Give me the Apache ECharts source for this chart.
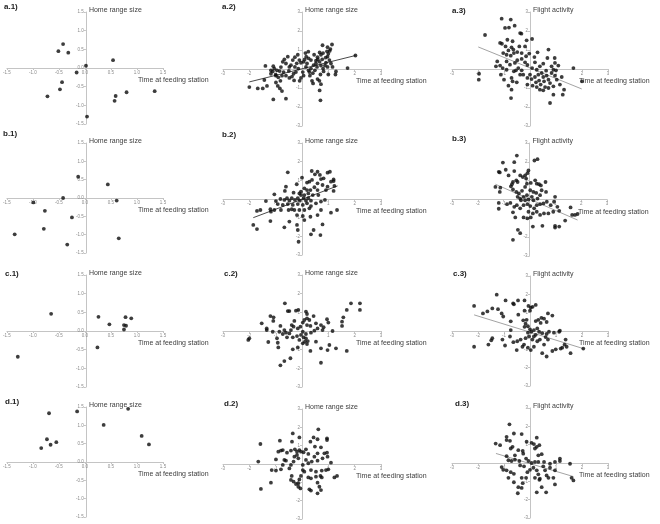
<!DOCTYPE html>
<html>
<head>
<meta charset="utf-8">
<title>Time at feeding station vs home range size and flight activity</title>
<script src="https://cdn.jsdelivr.net/npm/echarts@6/dist/echarts.min.js"></script>
<style>
html,body{margin:0;padding:0;background:#fff;}
#main{width:660px;height:524px;}
</style>
</head>
<body>
<div id="main"></div>
<script>
// points: [time at feeding station, response]
var a1 = [[-0.42,0.64],[-0.51,0.45],[-0.32,0.41],[0.02,0.06],[0.54,0.21],[-0.16,-0.12],[-0.44,-0.38],[-0.48,-0.57],[-0.72,-0.76],[0.59,-0.75],[0.57,-0.88],[0.80,-0.65],[1.34,-0.62],[0.04,-1.30]];
var b1 = [[-0.13,0.58],[0.44,0.37],[-0.42,0.0],[-0.99,-0.12],[0.61,-0.07],[-0.77,-0.35],[-0.25,-0.53],[-0.79,-0.84],[-1.35,-0.99],[0.65,-1.10],[-0.34,-1.27]];
var c1 = [[-0.65,0.46],[0.26,0.38],[0.78,0.37],[0.89,0.34],[0.47,0.18],[0.75,0.16],[0.79,0.14],[0.75,0.04],[0.24,-0.44],[-1.29,-0.69]];
var d1 = [[-0.69,1.33],[-0.15,1.38],[0.83,1.45],[0.36,1.01],[1.09,0.71],[1.23,0.48],[-0.73,0.62],[-0.55,0.54],[-0.66,0.47],[-0.84,0.38]];

var a2 = [[0.78,1.25],[1.14,1.29],[0.97,1.15],[1.08,1.05],[0.95,0.93],[0.80,0.84],[0.67,0.87],[0.72,0.75],[1.00,0.80],[0.59,0.62],
  [0.77,0.51],[0.67,0.38],[0.53,0.29],[0.97,0.65],[1.04,0.47],[0.91,0.33],[1.10,0.29],[0.87,0.18],[0.72,0.18],[0.80,0.02],
  [0.97,0.11],[0.82,-0.13],[1.16,0.11],[1.29,-0.13],[1.27,-0.29],[1.00,-0.29],[0.70,-0.29],[0.59,-0.53],[0.66,-0.62],[0.72,-0.80],
  [0.38,-0.62],[0.42,-0.76],[0.67,-1.13],[0.70,-1.65],[0.13,0.84],[0.24,0.91],[0.16,0.65],[0.25,0.56],[0.34,0.47],[0.06,0.38],
  [0.19,0.29],[-0.04,0.33],[-0.10,0.47],[-0.27,0.62],[-0.16,0.75],[-0.35,0.47],[-0.42,0.20],[-0.54,0.65],[-0.67,0.51],[-0.73,0.38],
  [-0.61,0.29],[-0.48,0.11],[-0.27,0.11],[-0.14,0.02],[-0.23,-0.16],[-0.32,-0.25],[-0.38,-0.40],[-0.48,-0.47],[-0.61,-0.35],[-0.70,-0.16],
  [-0.76,-0.35],[-0.85,-0.11],[-0.95,-0.07],[-1.05,0.02],[-1.11,-0.13],[-1.18,-0.25],[-0.99,-0.35],[-0.90,-0.44],[-0.82,-0.62],[-0.99,-0.71],
  [-0.92,-0.89],[-0.84,-1.02],[-0.76,-1.16],[-1.18,-0.07],[-1.09,0.15],[-1.39,0.16],[-1.43,-0.58],[-1.33,-0.89],[-1.49,-1.02],[-1.68,-1.02],
  [-2.00,-0.95],[-1.09,-1.60],[-0.61,-1.56],[1.73,0.05],[2.03,0.71],[0.25,-0.07],[0.34,0.02],[0.15,0.11],[0.03,-0.16],[0.06,-0.35],
  [-0.04,-0.47],[-0.09,-0.62],[0.41,-0.22],[0.49,-0.07],[0.57,0.11],[0.44,0.20],[0.53,0.44],[0.46,0.75],[0.28,-0.16],[-0.20,0.30],
  [0.10,0.50],[-0.50,-0.10],[-0.80,0.10],[0.90,0.60],[1.05,0.95],[0.30,-0.35],[-0.30,-0.60],[-1.00,-0.30],[0.60,0.50]];

var a3 = [[-1.73,1.79],[-1.09,2.65],[-0.74,2.60],[-0.96,2.16],[-0.81,2.18],[-0.59,2.28],[-0.38,1.89],[-0.33,1.86],[-0.13,1.51],[0.08,1.58],
  [-1.15,1.37],[-1.08,1.33],[-0.94,1.19],[-0.71,1.14],[-0.64,1.02],[-0.83,0.98],[-1.03,0.84],[-0.90,0.75],[-0.74,0.70],[-0.62,0.84],
  [-0.49,0.89],[-0.32,0.84],[-0.19,1.19],[-0.41,1.19],[-0.67,1.46],[-0.87,1.54],[-1.26,0.40],[-1.31,0.14],[-1.15,0.18],[-1.05,0.05],
  [-0.90,0.40],[-0.77,0.23],[-0.58,0.32],[-0.49,0.46],[-0.32,0.53],[-0.19,0.35],[-0.10,0.21],[-0.45,0.05],[-0.32,-0.07],[-0.62,-0.12],
  [-0.90,-0.04],[-1.12,-0.30],[-1.00,-0.56],[-0.71,-0.47],[-0.67,-0.65],[-0.51,-0.70],[-0.83,-0.88],[-0.71,-1.09],[-0.73,-1.53],[-1.96,-0.25],
  [-1.97,-0.56],[0.08,0.05],[0.19,0.35],[0.17,0.63],[0.29,0.88],[0.71,1.02],[0.26,-0.04],[0.38,0.14],[0.51,0.28],[0.67,0.58],
  [0.95,0.58],[0.96,0.32],[0.83,0.14],[0.62,-0.09],[0.45,-0.21],[0.32,-0.30],[0.19,-0.42],[0.06,-0.53],[-0.10,-0.47],[0.00,-0.30],
  [-0.10,-0.82],[0.10,-0.88],[0.26,-0.95],[0.38,-1.09],[0.51,-1.12],[0.41,-0.82],[0.54,-0.65],[0.71,-0.56],[0.64,-0.35],[0.83,-0.21],
  [0.90,-0.04],[1.00,-0.07],[0.96,-0.35],[1.03,-0.56],[1.22,-0.42],[1.15,-0.82],[0.90,-0.91],[0.77,-0.74],[1.31,-1.09],[1.26,-1.35],
  [0.90,-1.35],[0.77,-1.79],[1.67,0.05],[2.00,-0.65],[1.09,0.18],[0.35,-0.61],[0.23,-0.70],[0.58,-0.95],[0.71,-1.00],[0.51,-0.42],
  [-0.26,-0.30],[-0.38,-0.30],[-0.54,-0.07],[-0.15,0.67],[-0.03,0.81]];

var b2 = [[-0.54,1.43],[0.37,1.50],[0.59,1.46],[0.49,1.32],[0.68,1.29],[0.97,1.41],[1.06,1.46],[0.82,1.11],[0.72,1.07],[1.20,1.05],
  [1.20,0.96],[1.10,0.93],[0.38,1.02],[0.28,0.93],[0.19,0.88],[0.00,1.14],[-0.20,0.79],[-0.61,0.66],[0.59,0.84],[0.78,0.75],
  [0.97,0.66],[1.23,0.70],[1.20,0.43],[0.91,0.48],[0.59,0.48],[0.47,0.63],[0.32,0.48],[0.19,0.48],[0.09,0.57],[-0.04,0.39],
  [-0.10,0.30],[-0.32,0.34],[-0.04,0.21],[0.09,0.21],[0.24,0.30],[0.41,0.21],[0.62,0.21],[-1.05,0.25],[-0.65,0.43],[-1.37,-0.11],
  [-0.99,-0.11],[-0.82,0.00],[-0.67,-0.05],[-0.57,0.04],[-0.48,-0.09],[-0.39,0.04],[-0.27,-0.05],[-0.16,0.04],[-0.08,-0.09],[0.06,0.04],
  [0.15,-0.09],[0.24,0.04],[0.34,-0.09],[0.19,-0.23],[0.03,-0.32],[-0.16,-0.27],[-0.35,-0.32],[-0.54,-0.27],[-0.73,-0.32],[-0.92,-0.27],
  [-0.80,-0.59],[-1.05,-0.59],[-1.18,-0.68],[-1.20,-0.55],[-1.58,-0.59],[-1.71,-0.64],[-0.51,-0.59],[-0.39,-0.55],[-0.29,-0.59],[-0.10,-0.59],
  [0.09,-0.59],[-0.19,-0.86],[0.03,-0.91],[0.09,-1.13],[0.34,-0.38],[0.53,-0.23],[0.72,-0.14],[0.87,-0.05],[0.72,-0.59],[0.59,-0.86],
  [0.78,-1.36],[0.32,-0.95],[0.44,-1.66],[0.34,-1.89],[0.70,-1.93],[-0.19,-1.39],[-0.48,-1.21],[-0.67,-1.52],[-1.20,-1.18],[-1.85,-1.39],
  [-1.71,-1.61],[-0.13,-2.29],[-0.16,-1.66],[1.10,-0.73],[1.33,-0.59],[0.28,-0.50]];

var b3 = [[-1.03,1.96],[-0.49,2.33],[-0.59,1.98],[0.19,2.07],[0.31,2.14],[-0.92,1.58],[-1.19,1.47],[-1.15,1.44],[-0.81,1.28],[-0.59,1.51],
  [-0.36,1.28],[-0.26,1.19],[-0.17,1.28],[-0.08,1.40],[-0.04,1.54],[-0.13,1.11],[-0.51,1.02],[-0.46,0.93],[-0.64,0.93],[-0.68,0.81],
  [-0.72,0.70],[-0.64,0.53],[-0.51,0.40],[-0.41,0.32],[-0.29,0.46],[-0.17,0.67],[-0.10,0.84],[0.05,0.88],[0.22,1.02],[0.28,0.84],
  [0.37,0.81],[0.44,0.75],[0.62,0.93],[0.47,0.49],[0.26,0.35],[0.15,0.40],[0.03,0.49],[-0.10,0.23],[-0.23,0.14],[-0.36,0.05],
  [-0.46,0.14],[-0.33,-0.04],[-0.17,-0.04],[-0.04,0.00],[0.09,0.14],[0.15,-0.04],[0.31,0.05],[0.41,0.23],[0.64,0.40],[0.99,0.14],
  [-1.32,0.67],[-1.13,0.63],[-1.15,0.40],[-1.19,-0.18],[-1.19,-0.49],[-0.87,-0.25],[-0.74,-0.18],[-0.59,-0.39],[-0.49,-0.30],[-0.64,-0.68],
  [-0.36,-0.47],[-0.23,-0.30],[-0.08,-0.25],[0.03,-0.35],[0.18,-0.47],[0.28,-0.30],[0.41,-0.25],[0.54,-0.21],[0.67,-0.12],[0.82,-0.30],
  [0.95,-0.12],[1.08,-0.39],[1.15,-0.60],[0.92,-0.65],[0.73,-0.74],[0.56,-0.74],[0.41,-0.82],[0.28,-0.65],[0.13,-0.74],[-0.04,-0.65],
  [-0.23,-0.95],[-0.08,-1.00],[0.05,-0.95],[-0.55,-0.95],[0.13,-1.44],[0.50,-1.40],[0.99,-1.40],[0.99,-1.49],[1.15,-1.44],[1.38,-1.12],
  [1.59,-0.42],[1.65,-0.82],[1.76,-0.82],[1.86,-0.77],[-0.45,-1.61],[-0.36,-1.79],[-0.64,-2.14]];

var c2 = [[-0.65,1.48],[-0.54,1.07],[-0.48,1.07],[-0.23,1.09],[-0.14,1.13],[0.15,1.04],[0.19,0.91],[-1.20,0.80],[-1.08,0.73],[-1.09,0.54],
  [-1.53,0.41],[-1.34,0.14],[-1.34,0.05],[-1.11,-0.04],[-0.82,0.27],[-0.86,-0.04],[-0.67,0.05],[-0.61,-0.09],[-0.48,-0.13],[-0.42,0.05],
  [-0.32,0.23],[-0.29,0.54],[-0.39,0.32],[-0.16,0.14],[-0.06,0.23],[0.03,0.45],[0.09,0.59],[0.19,0.68],[0.28,0.59],[0.44,0.80],
  [0.19,0.32],[0.32,0.27],[0.53,0.41],[0.72,0.32],[0.82,0.20],[0.95,0.63],[1.00,0.45],[1.16,0.00],[0.78,0.05],[0.59,0.14],
  [0.47,0.02],[0.34,-0.09],[0.15,-0.16],[0.03,-0.04],[-0.04,-0.21],[-0.19,-0.27],[-0.35,-0.34],[-0.57,-0.34],[-0.73,-0.16],[-0.95,-0.39],
  [-0.92,-0.63],[-1.28,-0.59],[-0.90,-0.88],[-0.35,-0.98],[-0.16,-0.88],[0.03,-0.66],[0.11,-0.57],[0.19,-0.70],[0.22,-0.54],[0.32,-1.07],
  [0.53,-0.57],[0.72,-0.93],[0.97,-1.02],[1.04,-0.75],[1.29,-0.93],[0.72,-1.70],[-0.44,-1.46],[-0.67,-1.61],[-0.82,-1.84],[-2.04,-0.48],
  [-2.00,-0.39],[1.52,0.27],[1.52,0.50],[1.57,0.73],[1.70,1.13],[1.86,1.48],[2.20,1.48],[2.20,1.13],[1.70,-1.07],[-0.10,-0.48],
  [0.06,-0.34],[0.15,-0.39]];

var c3 = [[-2.15,1.37],[-2.15,-0.86],[-1.81,0.96],[-1.64,1.07],[-1.45,1.23],[-1.23,1.19],[-1.09,0.96],[-1.03,0.79],[-1.28,1.98],[-0.94,1.67],
  [-0.65,1.51],[-0.62,1.46],[-0.46,1.67],[-0.21,1.67],[-0.06,1.37],[0.03,1.28],[0.00,1.11],[0.10,1.32],[0.22,1.42],[-0.45,0.89],
  [-0.21,1.11],[-0.26,0.58],[-0.17,0.40],[-0.21,0.23],[-0.13,0.61],[-0.08,0.26],[0.00,0.09],[-0.08,-0.09],[0.05,-0.04],[0.15,0.05],
  [0.28,0.14],[0.32,0.61],[0.44,0.72],[0.54,0.67],[0.64,0.49],[0.69,0.96],[0.86,0.84],[0.41,0.44],[0.22,0.54],[-0.74,0.53],
  [-0.74,0.05],[-0.77,-0.30],[-1.06,-0.47],[-0.96,-0.79],[-1.45,-0.39],[-1.49,-0.51],[-1.60,-0.74],[-0.64,-0.61],[-0.49,-0.56],[-0.36,-0.47],
  [-0.23,-0.74],[-0.51,-1.04],[-0.29,-0.86],[-0.08,-0.91],[0.03,-1.04],[0.15,-0.86],[0.09,-0.47],[0.22,-0.21],[0.35,-0.04],[0.47,-0.12],
  [0.64,-0.16],[0.73,-0.04],[0.92,-0.09],[1.12,-0.04],[1.15,0.02],[0.60,-0.33],[0.69,-0.47],[0.38,-0.47],[0.54,-0.74],[0.47,-1.21],
  [0.64,-1.39],[0.86,-1.09],[0.99,-1.00],[1.18,-0.96],[1.24,-0.91],[1.37,-0.47],[1.33,-0.74],[1.41,-0.86],[1.56,-1.21],[2.05,-0.96],
  [-0.04,-0.30],[-0.17,-0.39],[0.15,-0.30],[0.28,-0.56]];

var d2 = [[-1.58,1.09],[-1.66,0.13],[-1.56,-1.36],[-1.18,-1.02],[-1.15,-0.33],[-0.99,0.25],[-0.90,0.67],[-0.84,1.27],[-0.80,0.73],[-0.73,0.76],
  [-0.99,-0.36],[-0.80,-0.29],[-0.73,-0.05],[-0.67,0.22],[-0.61,0.18],[-0.57,0.62],[-0.35,1.67],[-0.38,1.22],[-0.10,1.45],[-0.42,0.73],
  [-0.27,0.80],[-0.19,0.67],[-0.10,0.76],[-0.04,0.67],[0.06,0.64],[0.15,0.80],[0.24,0.55],[-0.29,0.40],[-0.19,0.49],[-0.14,0.31],
  [-0.32,0.13],[-0.42,-0.05],[-0.48,-0.24],[-0.39,-0.65],[-0.42,-0.87],[-0.32,-0.96],[-0.23,-1.09],[-0.14,-1.05],[-0.10,-0.84],[-0.04,-0.65],
  [0.03,-0.33],[0.09,-0.42],[-0.06,-1.33],[-0.14,-1.24],[0.28,-1.38],[0.34,-1.45],[0.59,-1.60],[0.72,-1.42],[0.66,-1.24],[0.59,-1.02],
  [0.53,-0.69],[0.34,-0.78],[0.24,-0.73],[0.34,-0.33],[0.53,-0.42],[0.70,-0.65],[0.75,-0.73],[0.91,-0.33],[0.75,-0.36],[1.00,-0.29],
  [1.10,0.07],[1.23,-0.73],[1.33,-0.65],[0.32,1.22],[0.44,1.45],[0.62,1.89],[0.49,0.95],[0.59,1.35],[0.72,0.91],[0.95,1.40],
  [0.95,1.31],[0.85,0.58],[0.95,0.62],[0.97,0.40],[0.78,0.31],[0.59,0.58],[0.47,0.40],[0.59,0.18],[0.37,0.13],[0.24,0.04],
  [0.15,0.22],[0.03,-0.05]];

var d3 = [[-0.79,2.11],[-1.32,1.06],[-1.15,0.97],[-0.90,1.43],[-0.90,1.25],[-0.77,1.21],[-0.62,1.61],[-0.32,1.58],[-0.13,1.16],[0.26,1.38],
  [0.06,1.10],[0.15,1.03],[0.26,0.88],[0.19,0.79],[0.36,0.97],[0.45,0.48],[0.32,0.42],[-0.74,0.79],[-0.67,0.88],[-0.45,0.70],
  [-0.28,0.66],[-0.26,0.51],[-0.58,0.42],[-0.90,0.37],[-0.83,0.15],[-0.71,0.11],[-0.58,0.18],[-0.41,0.11],[-0.15,0.24],[-0.06,0.11],
  [0.06,0.00],[0.19,0.06],[0.32,0.06],[0.54,0.06],[0.77,-0.04],[0.96,0.06],[1.15,0.24],[1.15,0.11],[1.54,-0.04],[-1.09,-0.22],
  [-1.03,-0.37],[-0.90,-0.40],[-0.74,-0.50],[-0.62,-0.59],[-0.83,-0.81],[-0.62,-1.05],[-0.32,-0.81],[-0.28,-1.10],[-0.15,-0.81],[-0.10,-0.50],
  [0.00,-0.37],[0.13,-0.26],[0.26,-0.40],[0.32,-0.62],[0.38,-0.86],[0.36,-0.92],[0.19,-0.81],[0.58,-0.40],[0.77,-0.26],[0.96,-0.40],
  [0.64,-0.68],[0.71,-0.81],[0.90,-0.81],[0.96,-1.17],[0.45,-1.32],[0.62,-1.60],[0.26,-1.60],[-0.45,-1.32],[-0.32,-1.36],[-0.47,-1.65],
  [1.60,-0.81],[1.67,-0.95],[-0.38,-0.13],[-0.23,-0.18],[0.51,-0.18]];

// fitted lines (end points)
var a2Fit = [[-2.0,-0.68],[2.03,0.71]];
var a3Fit = [[-1.99,1.16],[1.99,-1.05]];
var b2Fit = [[-1.85,-1.0],[1.35,0.70]];
var b3Fit = [[-1.32,0.81],[1.86,-1.09]];
var c3Fit = [[-2.15,0.88],[2.05,-0.96]];
var d3Fit = [[-1.31,0.52],[1.67,-0.74]];

var panelLabels = ['a.1)','a.2)','a.3)','b.1)','b.2)','b.3)','c.1)','c.2)','c.3)','d.1)','d.2)','d.3)'];
var yNames = ['Home range size','Home range size','Flight activity'];
var xName = 'Time at feeding station';

var sets = [a1,a2,a3,b1,b2,b3,c1,c2,c3,d1,d2,d3];
var fits = [null,a2Fit,a3Fit,null,b2Fit,b3Fit,null,null,c3Fit,null,null,d3Fit];

// layout: [left, top, width, height] of each plot
var rects = [
  [5,12,158,112],[223,12,158,114],[452,12,156,114],
  [5,143,158,110],[223,143,158,112],[452,143,155,113],
  [5,275,158,112],[223,275,158,112],[452,276,156,110],
  [5,407,158,110],[223,409,158,110],[452,408,156,110]
];
var labelPos = [
  [4,8],[222,8],[452,12],
  [3,135],[222,136],[452,140],
  [5,275],[224,275],[453,275],
  [5,403],[224,405],[455,405]
];

var axisGray = '#c4c4c4';
var font = 'Liberation Sans';

var grid = [], xAxis = [], yAxis = [], series = [], graphic = [];
for (var i = 0; i < 12; i++) {
  var col = i % 3;
  var r = rects[i];
  var lim = col === 0 ? 1.5 : 3;
  var step = col === 0 ? 0.5 : 1;
  var fmt = col === 0
    ? function (v) { return v.toFixed(1); }
    : function (v) { return v === 0 ? '' : String(v); };
  grid.push({ left: r[0], top: r[1], width: r[2], height: r[3] });
  // axes cross at the origin: shift the whole axis (line, ticks, labels) into the middle
  xAxis.push({
    type: 'value', gridIndex: i, min: -lim, max: lim, interval: step,
    position: 'bottom', offset: -r[3] / 2,
    splitLine: { show: false },
    axisLine: { onZero: false, lineStyle: { color: axisGray, width: 1 } },
    axisTick: { length: 2, lineStyle: { color: axisGray } },
    axisLabel: { fontSize: 4.5, color: '#8a8a8a', margin: 2, formatter: fmt, fontFamily: font },
    name: xName, nameLocation: 'end', nameGap: col === 2 ? -29 : -25,
    nameTextStyle: { fontSize: 7, color: '#404040', fontFamily: font, align: 'left', verticalAlign: 'top', padding: [9, 0, 0, 0] }
  });
  yAxis.push({
    type: 'value', gridIndex: i, min: -lim, max: lim, interval: step,
    position: 'left', offset: -r[2] / 2,
    splitLine: { show: false },
    axisLine: { onZero: false, lineStyle: { color: axisGray, width: 1 } },
    axisTick: { length: 2, lineStyle: { color: axisGray } },
    axisLabel: { fontSize: 4.5, color: '#8a8a8a', margin: 2, formatter: fmt, fontFamily: font },
    name: yNames[col], nameLocation: 'end', nameGap: 2,
    nameTextStyle: { fontSize: 7, color: '#404040', fontFamily: font, align: 'left', verticalAlign: 'middle', padding: [0, 0, 0, 3] }
  });
  series.push({
    type: 'scatter', xAxisIndex: i, yAxisIndex: i, data: sets[i],
    symbolSize: 3.8, itemStyle: { color: '#0d0d0d' }, silent: true
  });
  if (fits[i]) {
    series.push({
      type: 'line', xAxisIndex: i, yAxisIndex: i, data: fits[i], symbol: 'none', silent: true,
      lineStyle: { width: 0.8, color: col === 1 ? '#1a1a1a' : '#8c8c8c' }, z: 1
    });
  }
  graphic.push({
    type: 'text', left: labelPos[i][0], top: labelPos[i][1] - 5,
    style: { text: panelLabels[i], font: 'bold 8px ' + font, fill: '#222' }
  });
}

var chart = echarts.init(document.getElementById('main'));
chart.setOption({
  animation: false,
  backgroundColor: '#fff',
  grid: grid, xAxis: xAxis, yAxis: yAxis, series: series, graphic: graphic
});
</script>
</body>
</html>
